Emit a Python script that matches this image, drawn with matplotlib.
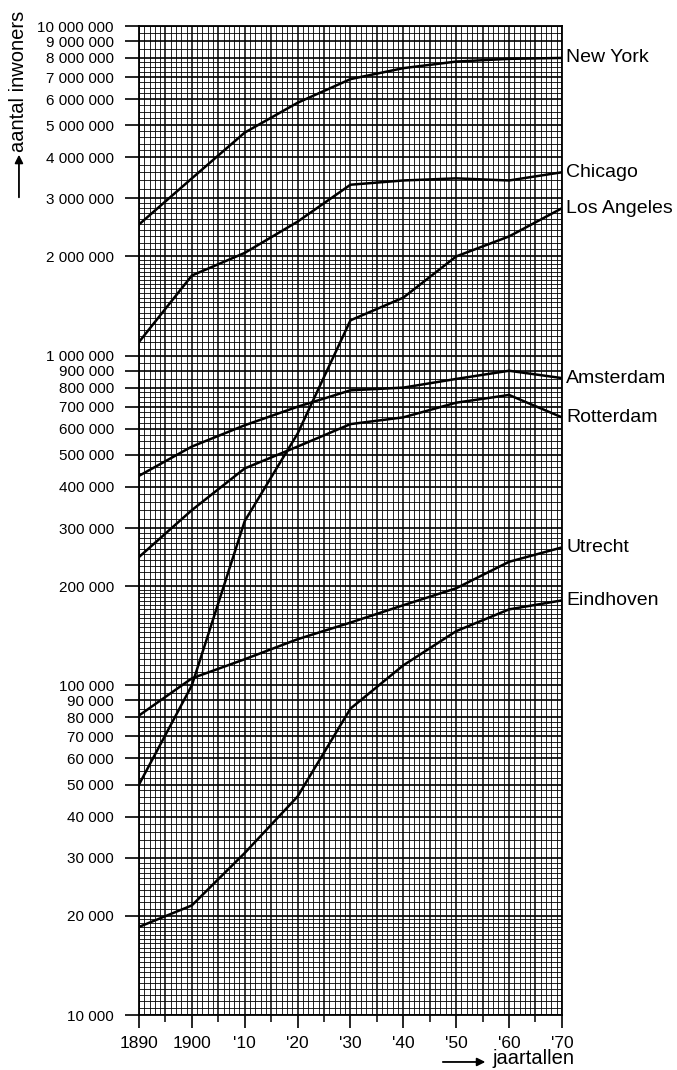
import numpy as np
import matplotlib.pyplot as plt
from matplotlib.patches import FancyArrowPatch
from matplotlib.ticker import FixedLocator

plt.rcParams['font.family'] = ['Liberation Sans', 'DejaVu Sans']

# population per census year
years = [1890, 1900, 1910, 1920, 1930, 1940, 1950, 1960, 1970]
new_york = [2500000, 3450000, 4750000, 5850000, 6900000, 7450000, 7800000, 7950000, 8000000]
chicago = [1100000, 1750000, 2050000, 2550000, 3300000, 3400000, 3450000, 3400000, 3600000]
los_angeles = [50000, 100000, 315000, 580000, 1280000, 1500000, 2000000, 2300000, 2800000]
amsterdam = [432000, 530000, 615000, 700000, 785000, 800000, 850000, 900000, 855000]
rotterdam = [245000, 340000, 455000, 530000, 620000, 650000, 720000, 760000, 650000]
utrecht = [81000, 105000, 120000, 138000, 155000, 175000, 197000, 237000, 262000]
eindhoven = [18500, 21500, 31000, 46000, 85000, 115000, 146000, 170000, 181000]

cities = ['New York', 'Chicago', 'Los Angeles', 'Amsterdam', 'Rotterdam', 'Utrecht', 'Eindhoven']
series = [new_york, chicago, los_angeles, amsterdam, rotterdam, utrecht, eindhoven]

xtick_years = [1890, 1900, 1910, 1920, 1930, 1940, 1950, 1960, 1970]
xtick_labels = ['1890', '1900', "'10", "'20", "'30", "'40", "'50", "'60", "'70"]


def createplot():
    fig = plt.figure(figsize=(6.77, 10.70), dpi=100)
    ax = fig.add_axes([0.2053, 0.0514, 0.6247, 0.9243])
    ax.set_yscale('log')
    ax.set_xlim(1890, 1970)
    ax.set_ylim(10000, 10000000)

    # graph paper: labelled values get a heavier line
    major_y = [m * 10 ** k for k in (4, 5, 6) for m in range(1, 10)] + [10 ** 7]
    minor_y = []
    for k in (4, 5, 6):
        d = 10 ** k
        for lo, hi, step in [(1, 2, 0.05), (2, 3, 0.1), (3, 5, 0.2), (5, 8, 0.25), (8, 10, 0.5)]:
            for m in np.arange(lo, hi, step):
                if abs(m - round(m)) > 1e-6:
                    minor_y.append(m * d)
    ax.hlines(minor_y, 1890, 1970, colors='black', linewidth=0.6, zorder=1)
    ax.hlines(major_y, 1890, 1970, colors='black', linewidth=1.2, zorder=1)
    all_years = np.arange(1890, 1971)
    ax.vlines([y for y in all_years if y % 5], 10000, 10000000, colors='black', linewidth=0.6, zorder=1)
    ax.vlines([y for y in all_years if y % 5 == 0], 10000, 10000000, colors='black', linewidth=1.1, zorder=1)

    for name, vals in zip(cities, series):
        ax.plot(years, vals, color='black', linewidth=1.8, zorder=3, solid_joinstyle='round')
        ax.annotate(name, xy=(years[-1], vals[-1]), xytext=(3, 0), textcoords='offset points',
                    ha='left', va='center', fontsize=14, annotation_clip=False)

    ax.yaxis.set_major_locator(FixedLocator(major_y))
    ax.set_yticklabels([f'{v:,}'.replace(',', ' ') for v in major_y])
    ax.yaxis.set_minor_locator(FixedLocator([]))
    ax.tick_params(axis='y', which='major', length=10, width=1.2, pad=8, labelsize=11, direction='out')

    ax.set_xticks(xtick_years)
    ax.set_xticklabels(xtick_labels)
    ax.set_xticks([1895, 1905, 1915, 1925, 1935, 1945, 1955, 1965], minor=True)
    ax.tick_params(axis='x', which='major', length=9, width=1.2, pad=6, labelsize=12.5, direction='out')
    ax.tick_params(axis='x', which='minor', length=5, width=1.1, direction='out')

    for s in ax.spines.values():
        s.set_linewidth(1.3)

    # axis captions with arrows
    fig.text(0.028, 0.924, 'aantal inwoners', rotation=90, ha='center', va='center', fontsize=14.5)
    fig.add_artist(FancyArrowPatch((0.028, 0.813), (0.028, 0.858), transform=fig.transFigure,
                                   arrowstyle='-|>', mutation_scale=12, color='black', linewidth=1.3))
    fig.text(0.788, 0.011, 'jaartallen', ha='center', va='center', fontsize=14.5)
    fig.add_artist(FancyArrowPatch((0.650, 0.0075), (0.721, 0.0075), transform=fig.transFigure,
                                   arrowstyle='-|>', mutation_scale=12, color='black', linewidth=1.3))

    plt.savefig('out.png', dpi=100)


if __name__ == "__main__":
    createplot()
